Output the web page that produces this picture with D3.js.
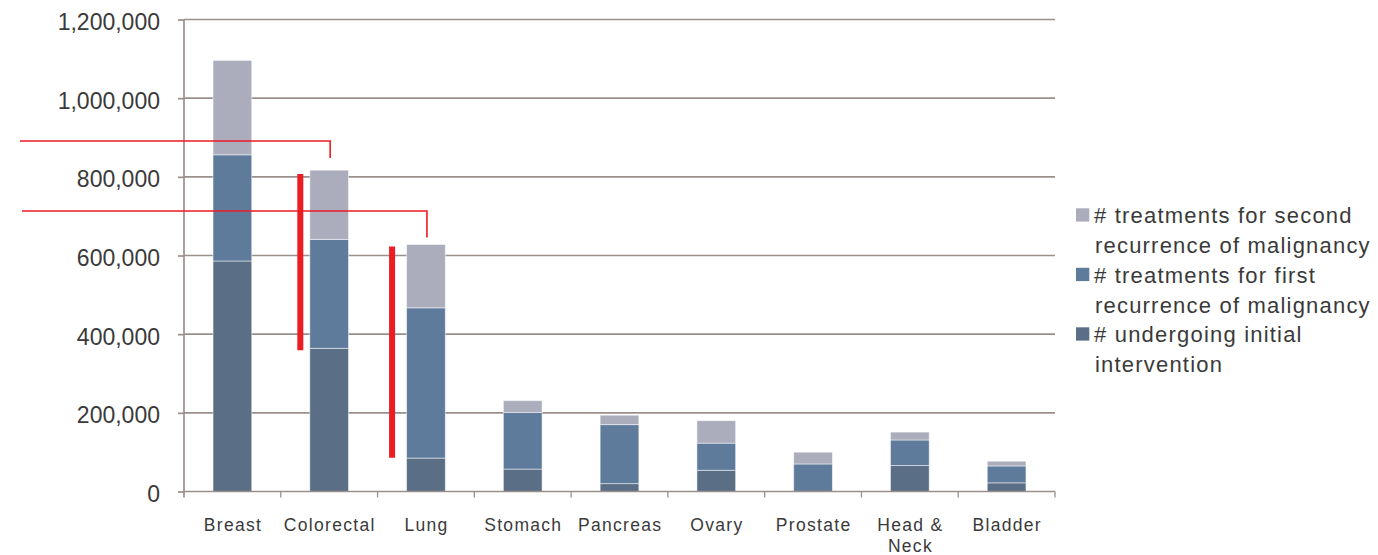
<!DOCTYPE html>
<html>
<head>
<meta charset="utf-8">
<script src="https://cdn.jsdelivr.net/npm/d3@7"></script>
<style>
  html, body { margin: 0; padding: 0; background: #ffffff; }
  svg { display: block; font-family: "Liberation Sans", Arial, sans-serif; }
</style>
</head>
<body>
<svg id="chart" width="1378" height="555"></svg>
<script>
// Cancer types along the x axis
const categories = ["Breast", "Colorectal", "Lung", "Stomach", "Pancreas", "Ovary", "Prostate", "Head & Neck", "Bladder"];
// Axis label text per category (line breaks marked with "|")
const categoryLabels = ["Breast", "Colorectal", "Lung", "Stomach", "Pancreas", "Ovary", "Prostate", "Head &|Neck", "Bladder"];

// Stacked series, bottom to top
const initialIntervention = [586000, 364000, 85000, 57000, 20000, 54000, 0, 66000, 22000];
const firstRecurrence     = [270000, 277000, 382000, 144000, 150000, 69000, 70000, 65000, 43000];
const secondRecurrence    = [240000, 176000, 161000, 30000, 24000, 57000, 30000, 20000, 12000];

const seriesNames = [
  "# treatments for second recurrence of malignancy",
  "# treatments for first recurrence of malignancy",
  "# undergoing initial intervention"
];
const legendLines = [
  ["# treatments for second", "recurrence of malignancy"],
  ["# treatments for first", "recurrence of malignancy"],
  ["# undergoing initial", "intervention"]
];

// Y axis ticks
const yTicks = [0, 200000, 400000, 600000, 800000, 1000000, 1200000];

// Red call-outs: bracket level, target category and drop-to level
const bracketCats   = ["Colorectal", "Lung"];
const bracketLevels = [891000, 713000];
const bracketDrops  = [848000, 646000];
// Red range bars beside bars: category, low and high value
const rangeCats  = ["Colorectal", "Lung"];
const rangeLows  = [359000, 86000];
const rangeHighs = [807000, 623000];

const svg = d3.select("#chart");
const plotLeft = 184, plotRight = 1055, plotTop = 19.5, plotBottom = 491.5;

const x = d3.scaleBand().domain(categories).range([plotLeft, plotRight])
  .paddingInner(0.6).paddingOuter(0.3);
const step = x.step();
const y = d3.scaleLinear().domain([0, 1200000]).range([plotBottom, plotTop]);

const gridColor = "#9b8f8c";
const textColor = "#3a3a3a";
const colors = {
  initial: "#5a6e86",
  first: "#5f7b9c",
  second: "#abadbd"
};

// Gridlines
svg.append("g").selectAll("line").data(yTicks.filter(d => d > 0)).join("line")
  .attr("x1", plotLeft).attr("x2", plotRight)
  .attr("y1", d => y(d)).attr("y2", d => y(d))
  .attr("stroke", gridColor).attr("stroke-width", 1.7);

// Stacked bars
const rows = categories.map((c, i) => ({
  cat: c, initial: initialIntervention[i], first: firstRecurrence[i], second: secondRecurrence[i]
}));
const stack = d3.stack().keys(["initial", "first", "second"])(rows);
svg.append("g").selectAll("g").data(stack).join("g")
  .attr("fill", d => colors[d.key])
  .selectAll("rect").data(d => d.filter(p => p[1] - p[0] > 0)).join("rect")
  .attr("x", d => x(d.data.cat))
  .attr("width", x.bandwidth())
  .attr("y", d => y(d[1]))
  .attr("height", d => y(d[0]) - y(d[1]))
  .attr("stroke", "rgba(255,255,255,0.55)")
  .attr("stroke-width", 0.9);

// Y axis
const yAxis = d3.axisLeft(y).tickValues(yTicks).tickSize(6).tickFormat(d3.format(","));
const gy = svg.append("g").attr("transform", `translate(${plotLeft},0)`).call(yAxis);
gy.select(".domain").remove();
gy.selectAll(".tick line").attr("stroke", gridColor).attr("stroke-width", 1.7);
gy.selectAll(".tick text")
  .attr("x", -24).attr("dy", null).attr("y", 10)
  .attr("fill", textColor).style("font-size", "23px")
  .style("font-family", "'Liberation Sans', Arial, sans-serif");
svg.append("line").attr("x1", plotLeft).attr("x2", plotLeft).attr("y1", plotTop).attr("y2", plotBottom + 6)
  .attr("stroke", gridColor).attr("stroke-width", 1.7);

// X axis baseline and category boundary ticks
svg.append("line").attr("x1", plotLeft).attr("x2", plotRight).attr("y1", plotBottom).attr("y2", plotBottom)
  .attr("stroke", gridColor).attr("stroke-width", 1.7);
const boundaries = d3.range(categories.length + 1).map(i => plotLeft + i * step);
svg.append("g").selectAll("line").data(boundaries.slice(1)).join("line")
  .attr("x1", d => d).attr("x2", d => d)
  .attr("y1", plotBottom).attr("y2", plotBottom + 6)
  .attr("stroke", gridColor).attr("stroke-width", 1.3);

// Category labels
const xl = svg.append("g").selectAll("text").data(categories).join("text")
  .attr("text-anchor", "middle")
  .attr("fill", textColor)
  .style("font-size", "17.5px")
  .style("letter-spacing", "1.3px");
xl.each(function(c, i) {
  const lines = categoryLabels[i].split("|");
  const t = d3.select(this);
  lines.forEach((ln, k) => {
    t.append("tspan").attr("x", x(c) + x.bandwidth() / 2 + 0.6).attr("y", 530.5 + k * 21).text(ln);
  });
});

// Red call-outs
const red = "#ec1c24";
bracketCats.forEach((c, i) => {
  const cx = x(c) + x.bandwidth() / 2 + 1;
  const yl = y(bracketLevels[i]);
  svg.append("path")
    .attr("d", `M${20 + i * 2},${yl}H${cx}V${y(bracketDrops[i])}`)
    .attr("fill", "none").attr("stroke", red).attr("stroke-width", 1.6);
});
const rangeShift = [-9.5, -14.5];
rangeCats.forEach((c, i) => {
  const rx = x(c) + rangeShift[i];
  svg.append("line")
    .attr("x1", rx).attr("x2", rx)
    .attr("y1", y(rangeHighs[i])).attr("y2", y(rangeLows[i]))
    .attr("stroke", red).attr("stroke-width", 6);
});

// Legend
const legendColors = [colors.second, colors.first, colors.initial];
const lg = svg.append("g");
legendLines.forEach((lines, i) => {
  const base = 223 + i * 59.5;
  lg.append("rect").attr("x", 1076).attr("y", base - 14.7).attr("width", 13.3).attr("height", 13.3)
    .attr("fill", legendColors[i]);
  const t = lg.append("text").attr("fill", textColor)
    .style("font-size", "22px").style("letter-spacing", "1.2px");
  t.append("title").text(seriesNames[i]);
  lines.forEach((ln, k) => {
    t.append("tspan").attr("x", k === 0 ? 1094 : 1095).attr("y", base + k * 30).text(ln);
  });
});
</script>
</body>
</html>
